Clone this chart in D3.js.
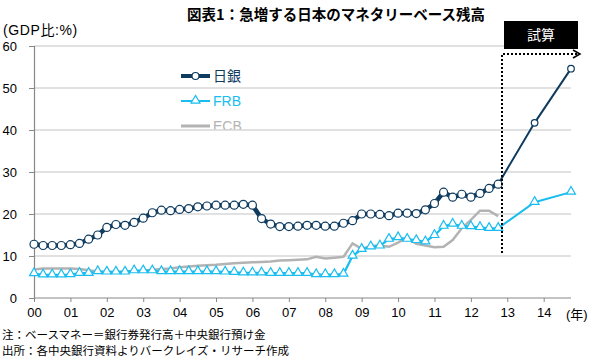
<!DOCTYPE html>
<html><head><meta charset="utf-8">
<script src="https://cdn.jsdelivr.net/npm/d3@7"></script>
<style>
body{margin:0;background:#fff;}
svg{display:block;font-family:"Liberation Sans","Noto Sans CJK JP",sans-serif;}
</style></head>
<body><svg id="chart" width="600" height="360"></svg>
<script>
// ---- data ----
const years = [2000,2001,2002,2003,2004,2005,2006,2007,2008,2009,2010,2011,2012,2013,2014];
const quarters = [];
years.forEach(y => [1,2,3,4].forEach(q => quarters.push(y + "Q" + q)));
const yearTickLabels = ["00","01","02","03","04","05","06","07","08","09","10","11","12","13","14"];
const yTicks = [0,10,20,30,40,50,60];

const bojValues = [12.8,12.5,12.5,12.5,12.7,13.0,14.0,15.0,16.8,17.5,17.3,18.0,19.0,20.3,20.9,20.8,
  21.1,21.3,21.7,21.9,22.1,22.1,22.1,22.3,22.1,18.9,17.6,17.0,17.0,17.1,17.3,17.3,17.1,17.1,17.8,18.4,
  20.0,20.0,19.9,19.6,20.2,20.2,20.1,21.0,22.5,25.2,24.0,24.7,24.0,24.9,26.1,27.1];
const frbValues = [5.8,5.5,5.5,5.5,5.6,5.9,5.9,6.3,6.2,6.2,6.2,6.5,6.5,6.5,6.3,6.3,
  6.3,6.3,6.3,6.3,6.3,6.2,6.1,6.0,6.0,6.0,5.9,5.9,5.9,5.9,5.9,5.6,5.6,5.6,5.7,10.0,
  11.6,12.2,12.4,14.0,14.4,14.0,13.7,13.4,14.9,17.1,17.6,17.1,17.0,16.8,16.6,16.6];
const ecbValues = [6.8,7.0,7.0,7.0,7.0,6.9,6.6,6.3,6.2,6.2,6.3,6.4,6.5,6.7,6.9,7.0,
  7.3,7.5,7.7,7.8,7.9,8.1,8.3,8.4,8.5,8.6,8.7,8.9,9.0,9.1,9.2,9.8,9.4,9.6,9.8,13.0,
  11.7,12.4,12.5,12.2,13.2,14.4,12.9,12.5,12.1,12.2,13.8,16.6,18.6,20.8,20.8,19.5];
const projQuarters = ["2012Q4","2013Q4","2014Q4"];
const bojProj = [27.1,41.7,54.6];
const frbProj = [16.6,22.8,25.2];

const seriesNames = ["日銀","FRB","ECB"];
const colors = {boj:"#0f3b5f", frb:"#19bdef", ecb:"#b3b3b3"};

// ---- chart ----
const svg = d3.select("#chart");
const x = d3.scalePoint().domain(quarters).range([34, 571]);
const y = d3.scaleLinear().domain([0,60]).range([298, 46]);

// title
svg.append("text").attr("x",336).attr("y",20).attr("text-anchor","middle")
  .attr("font-size",14.5).attr("font-weight","bold").attr("fill","#000")
  .attr("font-family","'Noto Sans CJK JP',sans-serif")
  .text("図表1：急増する日本のマネタリーベース残高");
svg.append("text").attr("x",3).attr("y",35).attr("font-size",14).attr("fill","#000")
  .attr("letter-spacing",0.6)
  .text("(GDP比:%)");

// gridlines
svg.append("g").selectAll("line").data(yTicks.filter(d=>d>0)).join("line")
  .attr("x1",34).attr("x2",571).attr("y1",d=>y(d)).attr("y2",d=>y(d))
  .attr("stroke","#c4c4c4").attr("stroke-width",1.2);

// y axis
const yAxis = svg.append("g").attr("transform","translate(34,0)")
  .call(d3.axisLeft(y).tickValues(yTicks).tickSize(5).tickPadding(12).tickFormat(d3.format("d")));
yAxis.select(".domain").attr("stroke","#888").attr("stroke-width",1.2);
yAxis.selectAll(".tick line").attr("stroke","#888");
yAxis.selectAll("text").attr("font-size",13).attr("fill","#000").attr("font-family","'Liberation Sans',sans-serif");

// x axis
const xAxis = svg.append("g").attr("transform","translate(0,298)")
  .call(d3.axisBottom(x).tickValues(years.map(yy=>yy+"Q1")).tickSize(4).tickPadding(6)
    .tickFormat((d,i)=>yearTickLabels[i]));
xAxis.select(".domain").attr("stroke","#888").attr("stroke-width",1.2).attr("d","M34,0H571");
xAxis.selectAll(".tick line").attr("stroke","#888");
xAxis.selectAll("text").attr("font-size",13).attr("fill","#000").attr("font-family","'Liberation Sans',sans-serif");
svg.append("text").attr("x",566).attr("y",319).attr("font-size",13).attr("fill","#000").text("(年)");

// lines
const line = d3.line().x(d=>x(d.q)).y(d=>y(d.v));
const mk = (vals, qs) => vals.map((v,i)=>({q:qs[i], v}));
const ecbData = mk(ecbValues, quarters);
const frbData = mk(frbValues, quarters);
const bojData = mk(bojValues, quarters);
const frbProjData = mk(frbProj, projQuarters);
const bojProjData = mk(bojProj, projQuarters);

svg.append("path").datum(ecbData).attr("d",line).attr("fill","none")
  .attr("stroke",colors.ecb).attr("stroke-width",2.5);

const tri = d3.symbol().type(d3.symbolTriangle).size(34);
svg.append("path").datum(frbProjData).attr("d",line).attr("fill","none")
  .attr("stroke",colors.frb).attr("stroke-width",2);
svg.append("path").datum(frbData).attr("d",line).attr("fill","none")
  .attr("stroke",colors.frb).attr("stroke-width",2.2);
svg.append("g").selectAll("path").data(frbData.concat(frbProjData.slice(1))).join("path")
  .attr("d",tri).attr("transform",d=>`translate(${x(d.q)},${y(d.v)-0.5})`)
  .attr("fill","#fff").attr("stroke",colors.frb).attr("stroke-width",1.2);

svg.append("path").datum(bojProjData).attr("d",line).attr("fill","none")
  .attr("stroke",colors.boj).attr("stroke-width",2);
svg.append("path").datum(bojData).attr("d",line).attr("fill","none")
  .attr("stroke",colors.boj).attr("stroke-width",4.5);
svg.append("g").selectAll("circle").data(bojData).join("circle")
  .attr("cx",d=>x(d.q)).attr("cy",d=>y(d.v)).attr("r",4)
  .attr("fill","#fff").attr("stroke",colors.boj).attr("stroke-width",1.2);
svg.append("g").selectAll("circle").data(bojProjData.slice(1)).join("circle")
  .attr("cx",d=>x(d.q)).attr("cy",d=>y(d.v)).attr("r",3.3)
  .attr("fill","#fff").attr("stroke",colors.boj).attr("stroke-width",1.2);

// projection marker: dotted bracket and box
svg.append("path").attr("d","M502,253V54H577").attr("fill","none")
  .attr("stroke","#000").attr("stroke-width",2).attr("stroke-dasharray","2,2");
svg.append("path").attr("d","M573,50L580,54L573,58").attr("fill","none")
  .attr("stroke","#000").attr("stroke-width",1.5);
svg.append("rect").attr("x",504).attr("y",21).attr("width",74).attr("height",28).attr("fill","#000");
svg.append("text").attr("x",541).attr("y",40).attr("text-anchor","middle")
  .attr("font-size",14).attr("fill","#fff").attr("font-family","'Noto Sans CJK JP',sans-serif").text("試算");

// legend (bottom entry is cut off by the plot gridline, as in the reference)
svg.append("clipPath").attr("id","lgclip").append("rect")
  .attr("x",170).attr("y",60).attr("width",100).attr("height",69.5);
const lg = svg.append("g").attr("clip-path","url(#lgclip)");
const legendItems = [
  {name:seriesNames[0], c:colors.boj, w:4, y:76, mark:"circle"},
  {name:seriesNames[1], c:colors.frb, w:2, y:101, mark:"tri"},
  {name:seriesNames[2], c:colors.ecb, w:3, y:126, mark:null}
];
legendItems.forEach(it=>{
  lg.append("line").attr("x1",181).attr("x2",210).attr("y1",it.y).attr("y2",it.y)
    .attr("stroke",it.c).attr("stroke-width",it.w);
  if(it.mark==="circle") lg.append("circle").attr("cx",195.5).attr("cy",it.y).attr("r",3.5)
    .attr("fill","#fff").attr("stroke",it.c).attr("stroke-width",1.2);
  if(it.mark==="tri") lg.append("path").attr("d",tri).attr("transform",`translate(195.5,${it.y-0.5})`)
    .attr("fill","#fff").attr("stroke",it.c).attr("stroke-width",1.2);
  lg.append("text").attr("x",213).attr("y",it.y+5).attr("font-size",14).attr("fill",it.c)
    .attr("font-family","'Liberation Sans','Noto Sans CJK JP',sans-serif").text(it.name);
});

// notes
svg.append("text").attr("x",2).attr("y",339).attr("font-size",11.5).attr("fill","#000")
  .attr("font-family","'Noto Sans CJK JP',sans-serif")
  .text("注：ベースマネー＝銀行券発行高＋中央銀行預け金");
svg.append("text").attr("x",2).attr("y",355).attr("font-size",11.5).attr("fill","#000")
  .attr("font-family","'Noto Sans CJK JP',sans-serif")
  .text("出所：各中央銀行資料よりバークレイズ・リサーチ作成");
</script></body></html>
